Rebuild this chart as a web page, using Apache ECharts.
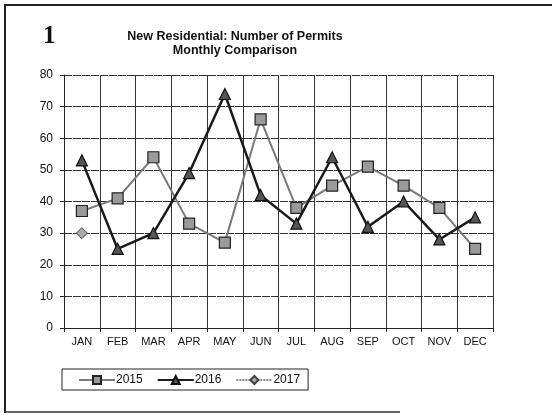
<!DOCTYPE html>
<html>
<head>
<meta charset="utf-8">
<script src="https://cdn.jsdelivr.net/npm/echarts@6/dist/echarts.min.js"></script>
<style>
  html, body { margin: 0; padding: 0; background: #fff; }
  #chart { width: 552px; height: 415px; }
</style>
</head>
<body>
<div id="chart"></div>
<script>
// Monthly counts of new residential permits
const months = ['JAN', 'FEB', 'MAR', 'APR', 'MAY', 'JUN', 'JUL', 'AUG', 'SEP', 'OCT', 'NOV', 'DEC'];
const permits2015 = [37, 41, 54, 33, 27, 66, 38, 45, 51, 45, 38, 25];
const permits2016 = [53, 25, 30, 49, 74, 42, 33, 54, 32, 40, 28, 35];
const permits2017 = [30, null, null, null, null, null, null, null, null, null, null, null];
const yTicks = { min: 0, max: 80, interval: 10 };

const chart = echarts.init(document.getElementById('chart'), null, { renderer: 'canvas' });

const font = 'Liberation Sans, Arial, sans-serif';

chart.setOption({
  animation: false,
  backgroundColor: '#ffffff',
  textStyle: { fontFamily: font },
  grid: { left: 64, right: 59, top: 75, bottom: 87, containLabel: false },
  graphic: [
    // page frame
    { type: 'line', shape: { x1: 4, y1: 5, x2: 552, y2: 5 }, style: { stroke: '#222', lineWidth: 2 } },
    { type: 'line', shape: { x1: 5, y1: 5, x2: 5, y2: 413 }, style: { stroke: '#222', lineWidth: 2 } },
    { type: 'line', shape: { x1: 5, y1: 412, x2: 400, y2: 412 }, style: { stroke: '#333', lineWidth: 1.5 } },
    // page number
    { type: 'text', left: 43, top: 24, style: { text: '1', font: 'bold 25px "Liberation Serif", "DejaVu Serif", serif', fill: '#111' } },
    // heading
    { type: 'text', x: 235, y: 30, style: { text: 'New Residential: Number of Permits', font: 'bold 12.5px "Liberation Sans", Arial, sans-serif', fill: '#111', textAlign: 'center' } },
    { type: 'text', x: 235, y: 44, style: { text: 'Monthly Comparison', font: 'bold 12.5px "Liberation Sans", Arial, sans-serif', fill: '#111', textAlign: 'center' } }
  ],
  legend: {
    left: 62,
    top: 369,
    width: 251,
    height: 14,
    orient: 'horizontal',
    padding: [5, 8, 4, 16],
    itemGap: 14,
    itemWidth: 36,
    itemHeight: 10,
    borderColor: '#222',
    borderWidth: 1,
    textStyle: { fontFamily: font, fontSize: 12, color: '#111', padding: [0, 0, 0, -4] },
    data: ['2015', '2016', '2017']
  },
  xAxis: {
    type: 'category',
    data: months,
    boundaryGap: true,
    axisLine: { show: true, lineStyle: { color: '#222', width: 1 } },
    axisTick: { show: true, length: 4, lineStyle: { color: '#222' } },
    axisLabel: { color: '#111', fontSize: 11, fontFamily: font, margin: 8 },
    splitLine: { show: true, lineStyle: { color: '#333', width: 1 } }
  },
  yAxis: {
    type: 'value',
    min: yTicks.min,
    max: yTicks.max,
    interval: yTicks.interval,
    axisLine: { show: true, lineStyle: { color: '#222', width: 1 } },
    axisTick: { show: true, length: 4, lineStyle: { color: '#222' } },
    axisLabel: { color: '#111', fontSize: 12, fontFamily: font, margin: 11 },
    splitLine: { show: true, lineStyle: { color: '#333', width: 1, type: [8, 1] } }
  },
  series: [
    {
      name: '2015',
      type: 'line',
      data: permits2015,
      symbol: 'rect',
      symbolSize: 11,
      lineStyle: { color: '#7a7a7a', width: 2 },
      itemStyle: { color: '#9a9a9a', borderColor: '#222', borderWidth: 1.2 },
      z: 3
    },
    {
      name: '2016',
      type: 'line',
      data: permits2016,
      symbol: 'triangle',
      symbolSize: 11,
      lineStyle: { color: '#1a1a1a', width: 2.5 },
      itemStyle: { color: '#555', borderColor: '#111', borderWidth: 1.2 },
      z: 4
    },
    {
      name: '2017',
      type: 'line',
      data: permits2017,
      symbol: 'diamond',
      symbolSize: 11,
      lineStyle: { color: '#8a8a8a', width: 2.5, type: [2, 1] },
      itemStyle: { color: '#aaa', borderColor: '#444', borderWidth: 1 },
      z: 5
    }
  ]
});
</script>
</body>
</html>
